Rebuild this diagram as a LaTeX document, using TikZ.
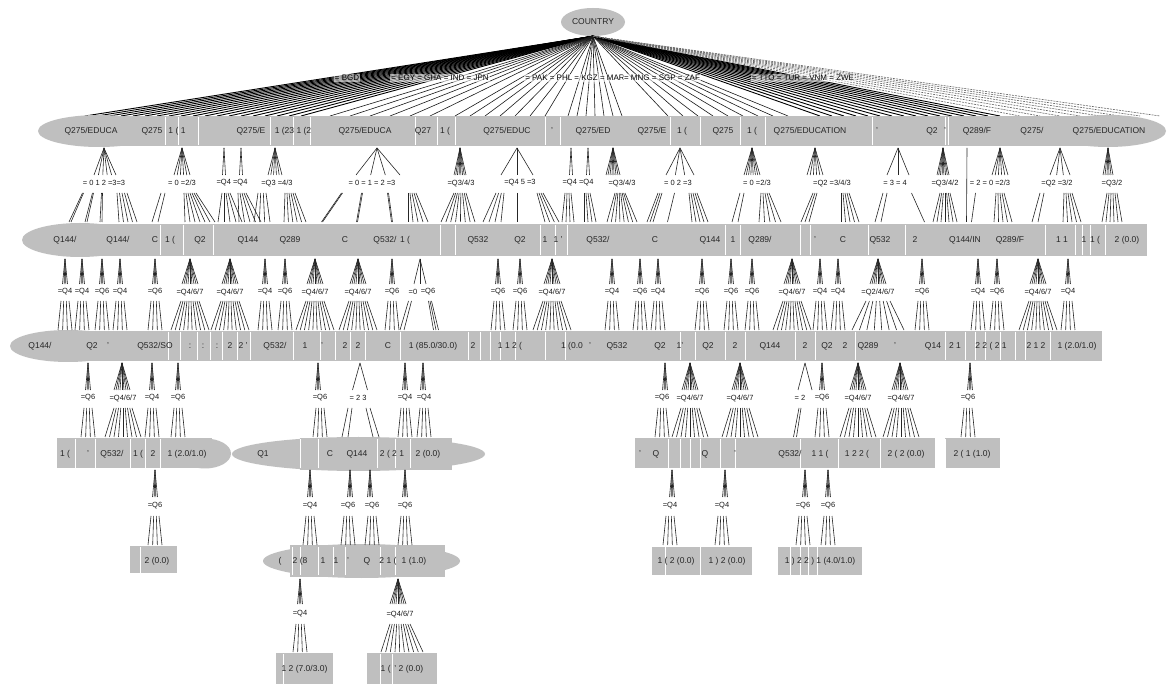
\documentclass[tikz,border=0pt]{standalone}
\usepackage{fontspec}
\setmainfont{Liberation Sans}
\usetikzlibrary{shapes.geometric}
\tikzset{
  band/.style={fill=gray!50, draw=none, inner sep=0pt},
  bandbox/.style={band, rectangle},
  bandell/.style={band, ellipse},
  nt/.style={font=\fontsize{8.5}{9}\selectfont, text=black!85, inner sep=0pt},
  lab/.style={font=\fontsize{7.5}{8}\selectfont, text=black!90, inner sep=0pt},
  rlab/.style={font=\fontsize{8}{9}\selectfont, text=black, inner sep=1pt,
    fill=white, fill opacity=0.55, text opacity=1},
  edge/.style={draw=black!85, line width=0.6pt},
  redge/.style={draw=black, line width=0.9pt},
  medge/.style={draw=black!90, line width=0.6pt},
  fedge/.style={draw=black!60, line width=0.6pt, dash pattern=on 2pt off 1pt},
  sep/.style={draw=white, line width=0.8pt},
}
% fan of lines: top centre, top y, top width, bottom centre, bottom y, bottom width, count
\newcommand\dfan[7]{%
  \pgfmathtruncatemacro\dfanlast{#7-1}%
  \foreach \k in {0,...,\dfanlast}{%
    \pgfmathsetmacro\dfa{#1-#3/2+\k*#3/max(#7-1,1)}%
    \pgfmathsetmacro\dfb{#4-#6/2+\k*#6/max(#7-1,1)}%
    \draw[edge] (\dfa,#2) -- (\dfb,#5);}}
\newcommand\tspike[3]{\dfan{#1}{#2}{0}{#1}{#3}{5}{4}}
\newcommand\dspike[3]{\dfan{#1}{#2}{0}{#1}{#3}{16}{9}}
\newcommand\tlow[3]{\dfan{#1}{#2}{8}{#1}{#3}{14}{4}}
\newcommand\dlow[3]{\dfan{#1}{#2}{18}{#1}{#3}{38}{10}}
\begin{document}
\begin{tikzpicture}[x=1pt,y=-1pt]
\useasboundingbox (0,0) rectangle (1168,684);
\fill[white] (0,0) rectangle (1168,684);

% ---------------- root ----------------
\node[bandell, minimum width=64pt, minimum height=28pt] (root) at (593,22) {};
\node[nt] (roottxt) at (593,22) {COUNTRY};

\foreach \t in {85,97,...,310}{\coordinate (ra\t) at (\t,116); \draw[redge] (root.south) -- (ra\t);}
\foreach \t in {330,350,...,430}{\coordinate (rb\t) at (\t,116); \draw[medge] (root.south) -- (rb\t);}
\foreach \t in {455,470,...,545}{\coordinate (rc\t) at (\t,116); \draw[medge] (root.south) -- (rc\t);}
\foreach \t in {568,577,...,622}{\coordinate (rd\t) at (\t,116); \draw[medge] (root.south) -- (rd\t);}
\foreach \t in {668,683,...,788}{\coordinate (re\t) at (\t,116); \draw[medge] (root.south) -- (re\t);}
\foreach \t in {820,832,...,1000}{\coordinate (rf\t) at (\t,116); \draw[redge] (root.south) -- (rf\t);}
\foreach \t in {1020,1040,...,1160}{\coordinate (rg\t) at (\t,116); \draw[fedge] (root.south) -- (rg\t);}

\node[rlab] (e1) at (347,78) {= BGD};
\node[rlab] (e2) at (440,78) {= EGY = GHA = IND = JPN};
\node[rlab] (e3) at (575,78) {= PAK = PHL = KGZ = MAR};
\node[rlab] (e4) at (662,78) {= MNG = SGP = ZAF};
\node[rlab] (e5) at (803,78) {= TTO = TUR = VNM = ZWE};

% ---------------- bands ----------------
% row 1
\node[bandell, minimum width=122pt, minimum height=32pt] (r1a) at (99,131) {};
\node[bandbox, minimum width=1009pt, minimum height=30pt] (r1b) at (603.5,131) {};
\node[bandell, minimum width=116pt, minimum height=32pt] (r1c) at (1108,131) {};
\foreach \x in {165,178,198,270,293,310,415,437,455,545,560,670,700,740,765,872,945,948}
  {\draw[sep] (\x,117) -- (\x,145);}
% row 2
\node[bandell, minimum width=116pt, minimum height=34pt] (r2a) at (80,240) {};
\node[bandbox, minimum width=1067pt, minimum height=32pt] (r2b) at (613.5,240) {};
\foreach \x in {160,183,213,440,455,540,555,567,725,740,800,810,868,905,1045,1075,1082,1090,1105}
  {\draw[sep] (\x,225) -- (\x,255);}
% row 3
\node[bandell, minimum width=116pt, minimum height=32pt] (r3a) at (68,346) {};
\node[bandbox, minimum width=1034pt, minimum height=30pt] (r3b) at (585,346) {};
\foreach \x in {168,180,197,210,222,237,250,293,320,335,350,365,400,468,480,490,500,515,545,565,680,695,725,745,795,815,855,945,965,975,985,1000,1015,1025,1050}
  {\draw[sep] (\x,332) -- (\x,360);}
% row 4
\node[bandbox, minimum width=155pt, minimum height=30pt] (r4a) at (134.5,453.5) {};
\node[bandell, minimum width=52pt, minimum height=30pt] (r4b) at (205,453.5) {};
\node[bandell, minimum width=253pt, minimum height=34pt] (r4c) at (358.5,454) {};
\node[bandbox, minimum width=152pt, minimum height=32pt] (r4d) at (376,454) {};
\node[bandbox, minimum width=300pt, minimum height=30pt] (r4e) at (785,453.5) {};
\node[bandbox, minimum width=55pt, minimum height=30pt] (r4f) at (972.5,453.5) {};
\foreach \x in {75,95,130,145,160,300,318,377,395,410,668,680,690,700,720,735,800,838,880,945}
  {\draw[sep] (\x,439) -- (\x,468);}
% row 5
\node[bandbox, minimum width=47pt, minimum height=27pt] (r5a) at (153.5,559.5) {};
\node[bandell, minimum width=197pt, minimum height=34pt] (r5b) at (361.5,561) {};
\node[bandbox, minimum width=155pt, minimum height=32pt] (r5c) at (367.5,561) {};
\node[bandbox, minimum width=100pt, minimum height=28pt] (r5d) at (702,561) {};
\node[bandbox, minimum width=84pt, minimum height=28pt] (r5e) at (820,561) {};
\foreach \x in {140,292,300,318,333,345,380,395,665,700,790,800,808,817}
  {\draw[sep] (\x,547) -- (\x,575);}
% row 6
\node[bandbox, minimum width=57pt, minimum height=31pt] (r6a) at (304.5,668.5) {};
\node[bandbox, minimum width=70pt, minimum height=31pt] (r6b) at (402,668.5) {};
\foreach \x in {283,380,392}
  {\draw[sep] (\x,654) -- (\x,684);}

% ---------------- band texts ----------------
\foreach \x/\t [count=\i] in {91/{Q275/EDUCA}, 152/Q275, 177/{1 ( 1}, 251/{Q275/E}, 293/{1 (23 1 (2},
  365/{Q275/EDUCA}, 423/Q27, 445/{1 (}, 507/{Q275/EDUC}, 552/’, 593/{Q275/ED}, 652/{Q275/E},
  682/{1 (}, 723/Q275, 752/{1 (}, 810/{Q275/EDUCATION}, 877/’, 932/Q2, 945/’, 977/{Q289/F},
  1032/{Q275/}, 1109/{Q275/EDUCATION}}
  {\node[nt] (t1n\i) at (\x,131) {\t};}

\foreach \x/\t [count=\i] in {65/{Q144/}, 118/{Q144/}, 155/C, 170/{1 (}, 200/Q2, 248/Q144, 290/Q289,
  345/C, 385/{Q532/}, 405/{1 (}, 478/Q532, 520/Q2, 545/1, 558/{1 ’}, 598/{Q532/}, 655/C, 710/Q144,
  733/1, 760/{Q289/}, 815/’, 843/C, 880/Q532, 915/2, 965/{Q144/IN}, 1010/{Q289/F}, 1062/{1 1},
  1084/1, 1095/{1 (}, 1127/{2 (0.0)}}
  {\node[nt] (t2n\i) at (\x,240) {\t};}

\foreach \x/\t [count=\i] in {40/{Q144/}, 92/Q2, 108/’, 155/{Q532/SO}, 190/:, 203/:, 217/:, 230/2,
  243/{2 ’}, 275/{Q532/}, 305/1, 322/’, 345/2, 358/2, 388/C, 433/{1 (85.0/30.0)}, 473/2,
  510/{1 1 2 (}, 572/{1 (0.0}, 590/’, 617/Q532, 660/Q2, 680/{1’}, 708/Q2, 735/2, 770/Q144,
  805/2, 827/Q2, 845/2, 868/Q289, 895/’, 933/Q14, 955/{2 1}, 991/{2 2 ( 2 1}, 1036/{2 1 2},
  1077/{1 (2.0/1.0)}}
  {\node[nt] (t3n\i) at (\x,346) {\t};}

\foreach \x/\t [count=\i] in {65/{1 (}, 88/’, 112/{Q532/}, 138/{1 (}, 153/2, 187/{1 (2.0/1.0)},
  263/Q1, 330/C, 357/Q144, 392/{2 ( 2 1}, 428/{2 (0.0)}, 640/’, 656/Q, 705/Q, 735/’,
  790/{Q532/}, 820/{1 1 (}, 857/{1 2 2 (}, 906/{2 ( 2 (0.0)}, 972/{2 ( 1 (1.0)}}
  {\node[nt] (t4n\i) at (\x,454) {\t};}

\foreach \x/\t [count=\i] in {157/{2 (0.0)}, 280/{(}, 300/{2 (8}, 323/1, 336/1, 348/’, 367/Q,
  388/{2 1 (}, 414/{1 (1.0)}, 676/{1 ( 2 (0.0)}, 727/{1 ) 2 (0.0)}, 820/{1 ) 2 2 ) 1 (4.0/1.0)}}
  {\node[nt] (t5n\i) at (\x,561) {\t};}

\node[nt] (t6n1) at (304.5,669) {1 2 (7.0/3.0)};
\node[nt] (t6n2) at (402,669) {1 (\, ’ 2 (0.0)};

% ---------------- level B: row 1 -> labels -> row 2 ----------------
\dfan{104}{148}{0}{105}{175}{22}{6}
\dfan{182}{148}{0}{182}{175}{16}{6}
\dfan{224}{148}{0}{224}{175}{3}{2}
\dfan{241}{148}{0}{241}{175}{3}{2}
\dfan{275}{148}{0}{275}{175}{14}{6}
\dfan{377}{148}{0}{378}{175}{44}{4}
\dfan{460}{148}{0}{460}{175}{12}{8}
\dfan{517}{148}{0}{517}{175}{32}{3}
\dfan{571}{148}{0}{571}{175}{3}{2}
\dfan{588}{148}{0}{588}{175}{3}{2}
\dfan{613}{148}{0}{613}{175}{14}{8}
\dfan{680}{148}{0}{680}{175}{28}{4}
\dfan{752}{148}{0}{752}{175}{16}{8}
\dfan{815}{148}{0}{815}{175}{16}{6}
\dfan{898}{148}{0}{898}{175}{22}{3}
\dfan{943}{148}{0}{943}{175}{12}{8}
\dfan{967}{148}{0}{967}{222}{1}{1}
\dfan{1000}{148}{0}{1000}{175}{16}{6}
\dfan{1060}{148}{0}{1060}{175}{20}{4}
\dfan{1108}{148}{0}{1108}{175}{10}{6}

\foreach \x/\t [count=\i] in {104/{= 0  1  2 =3=3}, 182/{= 0  =2/3}, 232/{=Q4 =Q4}, 277/{=Q3 =4/3},
  372/{= 0  = 1  = 2 =3}, 461/{=Q3/4/3}, 520/{=Q4  5  =3}, 578/{=Q4 =Q4}, 622/{=Q3/4/3},
  678/{= 0  2  =3}, 757/{= 0 =2/3}, 832/{=Q2 =3/4/3}, 895/{= 3   = 4}, 945/{=Q3/4/2},
  990/{= 2 = 0 =2/3}, 1057/{=Q2 =3/2}, 1112/{=Q3/2}}
  {\node[lab] (lb\i) at (\x,183) {\t};}

\dfan{83}{193}{1}{70}{222}{2}{2}
\dfan{93}{193}{1}{86}{222}{2}{2}
\dfan{102}{193}{1}{101}{222}{2}{2}
\dfan{122}{193}{10}{128}{222}{18}{5}
\dfan{163}{193}{4}{155}{222}{6}{2}
\dfan{190}{193}{12}{200}{222}{30}{7}
\dfan{226}{193}{8}{230}{222}{24}{5}
\dfan{242}{193}{8}{250}{222}{22}{5}
\dfan{262}{193}{8}{262}{222}{16}{4}
\dfan{290}{193}{10}{295}{222}{22}{6}
\dfan{342}{193}{1}{322}{222}{1}{2}
\dfan{362}{193}{1}{357}{222}{1}{2}
\dfan{388}{193}{1}{392}{222}{1}{2}
\dfan{412}{193}{8}{418}{222}{20}{5}
\dfan{460}{193}{12}{458}{222}{34}{8}
\dfan{500}{193}{8}{492}{222}{18}{4}
\dfan{518}{193}{1}{518}{222}{1}{1}
\dfan{540}{193}{6}{552}{222}{14}{4}
\dfan{568}{193}{6}{568}{222}{12}{4}
\dfan{587}{193}{6}{590}{222}{12}{4}
\dfan{620}{193}{10}{622}{222}{30}{8}
\dfan{660}{193}{4}{650}{222}{6}{3}
\dfan{675}{193}{1}{668}{222}{1}{1}
\dfan{693}{193}{8}{700}{222}{16}{5}
\dfan{742}{193}{4}{735}{222}{6}{2}
\dfan{765}{193}{8}{770}{222}{22}{5}
\dfan{815}{193}{4}{805}{222}{8}{3}
\dfan{845}{193}{8}{850}{222}{18}{5}
\dfan{885}{193}{4}{878}{222}{6}{2}
\dfan{912}{193}{1}{925}{222}{1}{1}
\dfan{945}{193}{10}{945}{222}{24}{7}
\dfan{976}{193}{1}{972}{222}{1}{1}
\dfan{1000}{193}{8}{1003}{222}{18}{5}
\dfan{1042}{193}{4}{1035}{222}{6}{2}
\dfan{1068}{193}{8}{1072}{222}{18}{5}
\dfan{1112}{193}{10}{1112}{222}{20}{6}

% ---------------- level C: row 2 -> labels -> row 3 ----------------
\foreach \x in {65,82,102,120,155,265,285,392,498,520,612,640,658,702,731,752,820,838,922,978,997,1068}
  {\tspike{\x}{259}{284}}
\foreach \x in {190,230,315,358,552,792,878,1038}
  {\dspike{\x}{259}{284}}
\dfan{420}{259}{0}{420}{284}{12}{3}

\foreach \x/\t [count=\i] in {65/=Q4, 82/=Q4, 102/=Q6, 120/=Q4, 155/=Q6, 190/{=Q4/6/7}, 230/{=Q4/6/7},
  265/=Q4, 285/=Q6, 315/{=Q4/6/7}, 358/{=Q4/6/7}, 392/=Q6, 413/=0, 428/=Q6, 498/=Q6, 520/=Q6,
  552/{=Q4/6/7}, 612/=Q4, 640/=Q6, 658/=Q4, 702/=Q6, 731/=Q6, 752/=Q6, 792/{=Q4/6/7}, 820/=Q4,
  838/=Q4, 878/{=Q2/4/6/7}, 922/=Q6, 978/=Q4, 997/=Q6, 1038/{=Q4/6/7}, 1068/=Q4}
  {\node[lab] (lc\i) at (\x,292) {\t};}

\foreach \x in {65,82,102,120,155,265,285,392,498,520,612,640,658,702,731,752,820,838,922,978,997,1068}
  {\tlow{\x}{301}{330}}
\foreach \x in {190,230,315,358,552,792,1038}
  {\dlow{\x}{301}{330}}
\dfan{878}{301}{24}{878}{330}{52}{8}
\dfan{410}{301}{3}{402}{330}{4}{2}
\dfan{430}{301}{3}{436}{330}{5}{3}

% ---------------- level D: row 3 -> labels -> row 4 ----------------
\foreach \x in {88,152,178,318,405,423,665,822,970}
  {\tspike{\x}{363}{390}}
\foreach \x in {122,690,740,858,900}
  {\dspike{\x}{363}{390}}
\dfan{360}{363}{0}{360}{390}{15}{2}
\dfan{805}{363}{0}{805}{390}{14}{2}

\foreach \x/\t [count=\i] in {88/=Q6, 123/{=Q4/6/7}, 152/=Q4, 178/=Q6, 320/=Q6, 358/{= 2  3},
  405/=Q4, 424/=Q4, 662/=Q6, 690/{=Q4/6/7}, 740/{=Q4/6/7}, 800/{= 2}, 822/=Q6, 858/{=Q4/6/7},
  901/{=Q4/6/7}, 968/=Q6}
  {\node[lab] (ld\i) at (\x,398) {\t};}

\foreach \x in {88,152,178,320,405,424,662,822,968}
  {\tlow{\x}{408}{437}}
\foreach \x in {123,690,740,858,901}
  {\dfan{\x}{408}{18}{\x}{437}{36}{9}}
\dfan{350}{408}{4}{345}{437}{6}{2}
\dfan{368}{408}{4}{376}{437}{6}{2}
\dfan{800}{408}{2}{795}{437}{3}{2}

% ---------------- level E: row 4 -> labels -> row 5 ----------------
\foreach \x in {155,310,350,370,405,672,725,805,828}
  {\tspike{\x}{470}{497}}
\foreach \x/\t [count=\i] in {155/=Q6, 310/=Q4, 348/=Q6, 372/=Q6, 405/=Q6, 670/=Q4, 722/=Q4,
  803/=Q6, 828/=Q6}
  {\node[lab] (le\i) at (\x,506) {\t};}
\foreach \x in {155,310,348,372,405,670,722,803,828}
  {\tlow{\x}{516}{545}}

% ---------------- level F: row 5 -> labels -> row 6 ----------------
\tspike{300}{579}{604}
\dspike{398}{579}{604}
\node[lab] (lf1) at (300,614) {=Q4};
\node[lab] (lf2) at (400,614) {=Q4/6/7};
\tlow{300}{624}{652}
\dfan{400}{624}{20}{402}{652}{42}{10}
\end{tikzpicture}
\end{document}
